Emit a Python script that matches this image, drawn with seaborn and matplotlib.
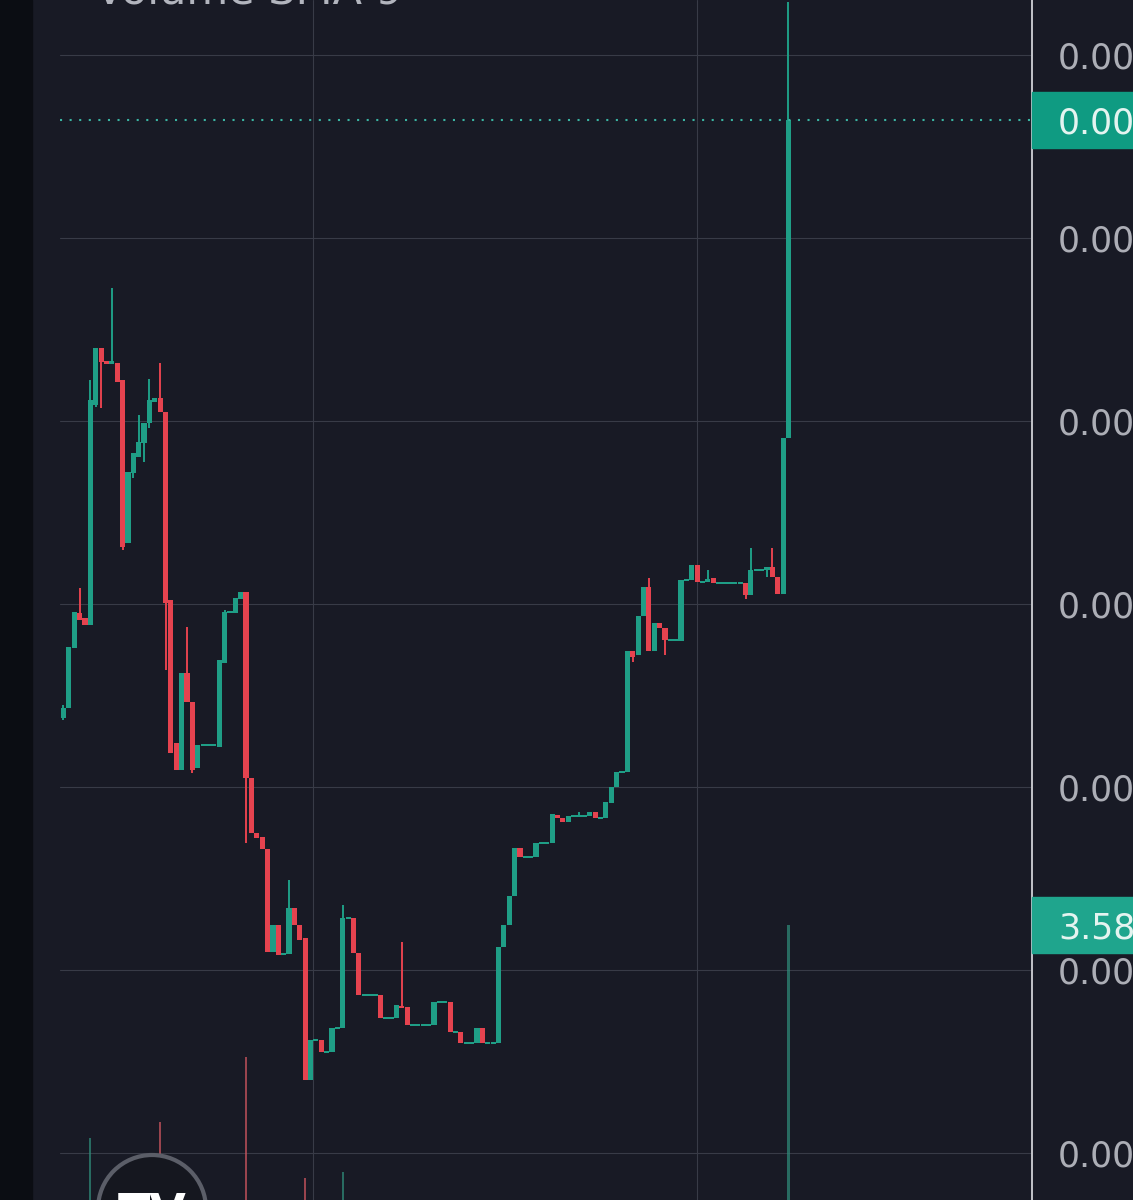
import matplotlib
matplotlib.use("Agg")
import matplotlib.pyplot as plt
import matplotlib.patches as mpatches
from matplotlib.ticker import FuncFormatter
import numpy as np
import pandas as pd
import seaborn as sns

# prices are stored in units of 1e-9 (axis shows them with 2 decimals -> "0.00")
PRICE_UNIT = 1e-9

opens = [482, 492, 552, 587, 582, 575, 795, 852, 838, 837,
         837, 820, 657, 727, 743, 757, 777, 798, 802, 788,
         600, 457, 430, 527, 498, 432, 455, 455, 455, 453,
         537, 588, 587, 601, 608, 422, 367, 363, 351, 248,
         275, 246, 246, 292, 275, 262, 120, 160, 160, 148,
         148, 172, 172, 282, 282, 247, 205, 205, 205, 205,
         182, 182, 182, 194, 193, 175, 175, 175, 175, 175,
         198, 198, 198, 168, 168, 157, 157, 157, 172, 157,
         157, 157, 253, 275, 304, 352, 343, 343, 343, 357,
         357, 357, 385, 382, 378, 384, 384, 384, 384, 388,
         382, 382, 397, 413, 428, 428, 549, 545, 584, 613,
         549, 577, 572, 560, 560, 559, 620, 620, 635, 618,
         618, 622, 617, 617, 617, 617, 617, 617, 605, 630,
         630, 630, 633, 623, 606, 762]
highs = [495, 553, 588, 612, 582, 820, 852, 852, 838, 912,
         837, 820, 728, 747, 785, 777, 821, 802, 837, 788,
         600, 457, 527, 573, 498, 455, 455, 455, 455, 540,
         590, 588, 602, 608, 608, 422, 367, 363, 351, 275,
         275, 246, 320, 292, 275, 262, 160, 160, 160, 148,
         172, 172, 295, 282, 282, 247, 205, 205, 205, 205,
         182, 182, 195, 258, 193, 175, 175, 175, 175, 198,
         198, 198, 198, 168, 168, 157, 157, 172, 172, 157,
         157, 253, 275, 304, 352, 352, 343, 343, 357, 357,
         357, 386, 385, 382, 384, 384, 388, 384, 388, 388,
         382, 398, 413, 428, 428, 549, 549, 584, 613, 622,
         577, 577, 572, 560, 560, 620, 620, 635, 635, 618,
         630, 622, 617, 617, 617, 617, 617, 617, 652, 630,
         630, 633, 652, 623, 762, 1198]
lows = [480, 492, 552, 580, 575, 575, 793, 792, 837, 837,
        818, 650, 657, 722, 743, 738, 772, 798, 788, 530,
        447, 430, 430, 498, 427, 432, 455, 455, 455, 453,
        537, 588, 587, 601, 357, 367, 362, 351, 248, 248,
        245, 246, 246, 275, 260, 120, 120, 160, 148, 148,
        148, 172, 172, 282, 247, 205, 205, 205, 205, 182,
        182, 182, 182, 192, 175, 175, 175, 175, 175, 175,
        198, 198, 168, 168, 157, 157, 157, 157, 157, 157,
        157, 157, 253, 275, 304, 343, 343, 343, 343, 357,
        357, 357, 382, 378, 378, 384, 384, 384, 384, 382,
        382, 382, 397, 413, 428, 428, 538, 545, 584, 549,
        549, 572, 545, 560, 560, 559, 620, 620, 618, 618,
        618, 617, 617, 617, 617, 617, 617, 601, 605, 630,
        630, 623, 623, 606, 606, 762]
closes = [492, 553, 588, 580, 575, 800, 852, 838, 837, 838,
          818, 653, 728, 747, 758, 777, 800, 802, 788, 597,
          447, 430, 527, 498, 430, 455, 455, 455, 455, 540,
          588, 588, 602, 608, 422, 367, 362, 351, 248, 275,
          245, 246, 292, 275, 260, 120, 160, 160, 148, 148,
          172, 172, 282, 282, 247, 205, 205, 205, 205, 182,
          182, 182, 195, 192, 175, 175, 175, 175, 175, 198,
          198, 198, 168, 168, 157, 157, 157, 172, 157, 157,
          157, 253, 275, 304, 352, 343, 343, 343, 357, 357,
          357, 386, 382, 378, 384, 384, 384, 384, 388, 382,
          382, 398, 413, 428, 428, 549, 543, 584, 613, 549,
          577, 572, 560, 560, 560, 620, 620, 635, 618, 618,
          621, 617, 617, 617, 617, 617, 617, 605, 630, 630,
          630, 633, 623, 606, 762, 1080]

# only the volume bars that reach above the bottom edge are visible
vol_index = [5, 18, 34, 45, 52, 135]
vol_value = [62, 78, 143, 22, 28, 275]
vol_label = "3.58"
title_text = "Volume SMA 9"
grid_prices = [1145, 962, 779, 596, 413, 230, 47]

BG = "#181a25"
UP = "#1f9e86"
DOWN = "#e5434f"
GRID = "#383b47"
AXTXT = "#acaeb6"

sns.set_theme(style="dark", rc={"axes.facecolor": BG, "figure.facecolor": BG})

o = np.array(opens, dtype=float)
h = np.array(highs, dtype=float)
l = np.array(lows, dtype=float)
c = np.array(closes, dtype=float)
n = len(o)
x = np.arange(n)
up = c >= o
col = np.where(up, UP, DOWN)

fig = plt.figure(figsize=(11.33, 12), dpi=100)
ax = fig.add_axes([60 / 1133, 0, (1032 - 60) / 1133, 1])
ax.set_facecolor(BG)

# volume overlay
vol = np.zeros(n)
vol[vol_index] = vol_value
vdf = pd.DataFrame({"i": x, "vol": vol, "dir": np.where(up, "up", "down")})
sns.barplot(data=vdf, x="i", y="vol", hue="dir", palette={"up": UP, "down": DOWN},
            native_scale=True, width=0.4, dodge=False, errorbar=None, legend=False,
            alpha=0.7, linewidth=0, ax=ax, zorder=2)

# candles
ax.vlines(x, l, h, colors=col, lw=1.4, zorder=3)
MINB = 2.4
body = np.maximum(np.abs(c - o), MINB)
bottom = np.where(np.abs(c - o) < MINB, (o + c) / 2 - MINB / 2, np.minimum(o, c))
ax.bar(x, body, bottom=bottom, width=0.96, color=col, linewidth=0, zorder=4)

ax.set_xlim(-0.65, 180.35)
ax.set_ylim(0, 1200)
ax.set_xlabel("")
ax.set_ylabel("")

# grid
ax.set_xticks([46.5, 118])
ax.set_yticks(grid_prices)
ax.grid(True, color=GRID, lw=0.8)
ax.set_axisbelow(True)
ax.tick_params(axis="x", length=0, labelbottom=False)
ax.yaxis.tick_right()
ax.yaxis.set_major_formatter(FuncFormatter(lambda v, p: f"{v * PRICE_UNIT:.2f}"))
ax.tick_params(axis="y", length=0, pad=18.5, labelsize=25, labelcolor=AXTXT)
for s in ["top", "left", "bottom"]:
    ax.spines[s].set_visible(False)
ax.spines["right"].set_color("#c3c4ca")
ax.spines["right"].set_linewidth(1.4)

# last price line and labels
last = c[-1]
ax.axhline(last, color="#3ab4a2", lw=1.5, ls=(0, (1, 3.6)), zorder=5)
trans = ax.get_yaxis_transform()
ax.add_patch(mpatches.Rectangle((1.0, last - 28), 0.12, 56, transform=trans,
                                color="#0f9b82", clip_on=False, zorder=6))
ax.text(1.0267, last, f"{last * PRICE_UNIT:.2f}", transform=trans, ha="left",
        va="center_baseline", fontsize=25, color="#e4f4f0", zorder=7, clip_on=False)
vtop = vol_value[-1]
ax.add_patch(mpatches.Rectangle((1.0, vtop - 28), 0.12, 56, transform=trans,
                                color="#1fa58d", clip_on=False, zorder=6))
ax.text(1.0267, vtop, vol_label, transform=trans, ha="left",
        va="center_baseline", fontsize=25, color="#e4f4f0", zorder=7, clip_on=False)

# indicator title, cut at the top edge
fig.text(95 / 1133, 1 - 4 / 1200, title_text, ha="left", va="baseline",
         fontsize=31, color="#b2b5be")

# dark strip on the left
fig.add_artist(mpatches.Rectangle((0, 0), 32 / 1133, 1, transform=fig.transFigure,
                                  color="#0b0d13", zorder=0))

# logo circle at the bottom
fig.add_artist(mpatches.Ellipse((152 / 1133, 1 - 1209 / 1200), 108 / 1133, 108 / 1200,
                                transform=fig.transFigure, facecolor="#15171f",
                                edgecolor="#5b5e68", lw=3, zorder=10))
fig.text(152 / 1133, 1 - 1192 / 1200, "TV", ha="center", va="top", fontsize=34,
         fontweight="black", color="white", zorder=11)

fig.savefig("out.png", dpi=100, facecolor=BG)
